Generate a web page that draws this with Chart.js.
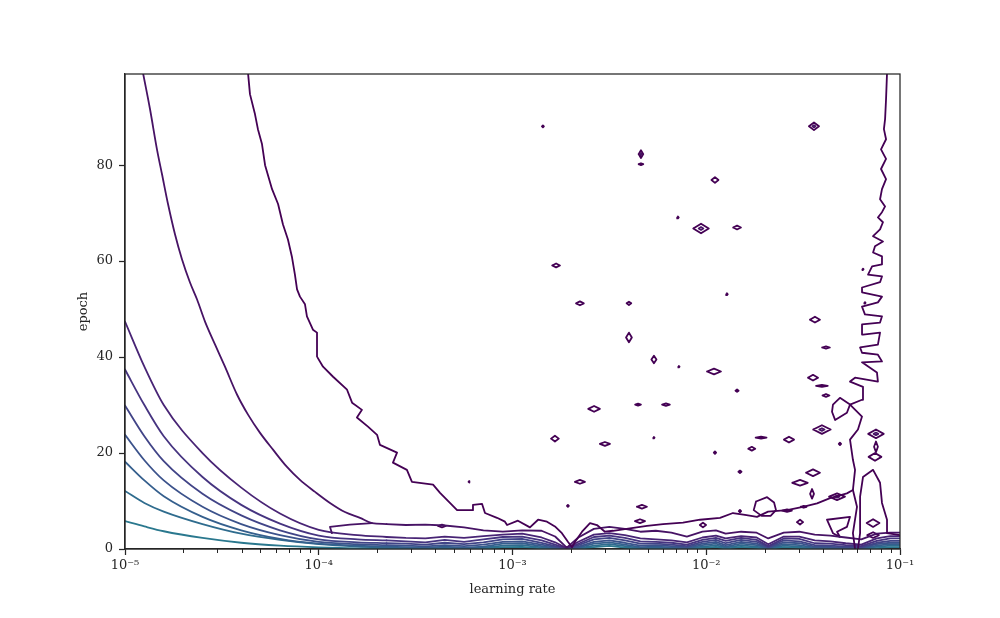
<!DOCTYPE html>
<html><head><meta charset="utf-8">
<script src="https://cdn.jsdelivr.net/npm/chart.js@4.4.1/dist/chart.umd.min.js"></script>
<style>html,body{margin:0;padding:0;background:#fff;}canvas{display:block;}</style>
</head><body>
<canvas id="c" width="1000" height="618"></canvas>
<script>
// ===== DATA (x = log10(learning rate), y = epoch) =====
const xTickExponents = [-5, -4, -3, -2, -1];
const xTickLabels = ['10⁻⁵', '10⁻⁴', '10⁻³', '10⁻²', '10⁻¹'];
const yTickValues = [0, 20, 40, 60, 80];
const minorDecades = [-5, -4, -3, -2];
const minorMultipliers = [2, 3, 4, 5, 6, 7, 8, 9];

// contour level colours (viridis, low part)
const levelColors = ['#440154', '#471365', '#482475', '#463480', '#414487', '#3b528b', '#355f8d', '#2f6c8e', '#2a788e'];

// level 0 : big outer contour (top-left -> bottom band -> right edge -> top)
const bLogLR = [-4.365,-4.355,-4.329,-4.314,-4.293,-4.277,-4.241,-4.210,-4.185,-4.159,-4.138,-4.123,-4.112,-4.097,-4.071,-4.061,-4.030,-4.009,-4.009,-3.978,-3.926,-3.854,-3.828,-3.777,-3.803,-3.746,-3.699,-3.684,-3.596,-3.617,-3.545,-3.519,-3.410,-3.374,-3.286,-3.209,-3.204,-3.157,-3.142,-3.080,-3.039,-3.028,-2.972,-2.910,-2.868,-2.822,-2.781,-2.745,-2.714,-2.693,-2.677,-2.641,-2.600,-2.564,-2.523,-2.481,-2.394,-2.306,-2.223,-2.120,-2.032,-1.929,-1.862,-1.800,-1.738,-1.681,-1.583,-1.501,-1.428,-1.361,-1.274,-1.243,-1.232,-1.243,-1.258,-1.217,-1.196,-1.258,-1.196,-1.191,-1.258,-1.232,-1.114,-1.119,-1.196,-1.093,-1.114,-1.196,-1.206,-1.114,-1.103,-1.191,-1.196,-1.103,-1.093,-1.181,-1.196,-1.114,-1.093,-1.196,-1.196,-1.103,-1.093,-1.165,-1.144,-1.093,-1.093,-1.139,-1.129,-1.088,-1.139,-1.103,-1.088,-1.114,-1.093,-1.077,-1.103,-1.093,-1.072,-1.098,-1.072,-1.098,-1.072,-1.083,-1.077,-1.072,-1.067];
const bEpoch = [99.2,94.8,90.6,87.5,84.4,80.0,75.0,71.9,67.7,64.5,60.8,57.2,54.1,52.6,51.0,48.5,45.7,45.1,40.1,38.0,35.9,33.2,30.5,29.0,27.4,25.5,23.8,21.7,20.1,18.0,16.5,14.0,13.4,11.7,8.1,8.1,9.2,9.4,7.5,6.5,5.7,5.0,5.9,4.5,6.1,5.7,4.7,3.3,1.5,0.35,1.5,3.6,5.4,5.0,3.6,3.8,4.3,4.8,5.2,5.5,6.1,6.5,7.5,7.1,6.7,7.8,8.1,8.8,9.5,10.6,11.6,12.3,16.5,18.6,22.8,24.9,27.6,30.1,31.1,33.8,34.9,35.7,34.9,36.8,38.9,39.1,40.5,40.9,42.0,42.6,45.1,44.7,46.8,47.2,48.5,48.9,50.5,51.4,52.6,53.5,54.5,55.6,56.8,57.2,58.9,59.3,61.0,61.8,63.1,64.1,65.2,66.6,68.1,69.1,70.2,71.4,72.9,75.0,77.1,79.2,81.3,83.3,85.4,87.5,89.6,93.8,99.2];
const bDropLogLR = [-1.243, -1.222, -1.243, -1.232];
const bDropEpoch = [12.3, 8.8, 3.3, 0];
const rightLogLR = [-1.217, -1.206, -1.206, -1.191, -1.139, -1.103, -1.093, -1.067, -1.067, -1.0];
const rightEpoch = [0, 3.3, 10.9, 15.0, 16.5, 13.8, 9.6, 6.1, 3.3, 2.9];

// level 1
const aLogLR = [-4.907,-4.871,-4.835,-4.809,-4.778,-4.742,-4.706,-4.665,-4.628,-4.587,-4.535,-4.484,-4.422,-4.365,-4.303,-4.236,-4.164,-4.097,-4.019,-3.942,-3.865,-3.787,-3.725,-3.650];
const aEpoch = [99.2,91.7,83.3,78.1,71.9,65.6,60.4,55.6,52.0,47.4,42.6,38.0,32.2,28.0,24.2,20.7,17.1,14.4,11.9,9.6,7.7,6.5,5.4,5.2];
const tongueLogLR = [-3.725, -3.839, -3.942, -3.932];
const tongueEpoch = [5.4, 5.1, 4.6, 3.3];

// levels 2..8 : smooth curves on the left
const leftLogLR = [-5, -4.9, -4.8, -4.6, -4.4, -4.2, -4.0, -3.8, -3.65];
const c3Left = [47.4, 38, 30, 20, 12.8, 7.4, 4.0, 2.9, 2.5];
const c4Left = [37.4, 30, 23.5, 15, 9.2, 5.3, 2.8, 2.0, 1.8];
const c5Left = [29.9, 23.5, 18.3, 11.5, 7.0, 3.9, 2.0, 1.4, 1.2];
const c6Left = [23.8, 18.5, 14.3, 8.8, 5.2, 2.9, 1.5, 1.0, 0.8];
const c7Left = [18.2, 14.3, 11.0, 6.7, 3.9, 2.1, 1.1, 0.7, 0.5];
const c8Left = [12.1, 9.6, 7.8, 5.2, 3.2, 1.9, 1.0, 0.5, 0.3];
const c9Left = [5.8, 4.7, 3.7, 2.3, 1.3, 0.7, 0.35, 0.15, 0.1];

// noisy band near epoch 0
const bandLogLR = [-3.55,-3.45,-3.35,-3.25,-3.15,-3.05,-2.95,-2.85,-2.78,-2.72,-2.66,-2.58,-2.5,-2.42,-2.34,-2.26,-2.18,-2.1,-2.02,-1.95,-1.9,-1.82,-1.74,-1.68,-1.6,-1.52,-1.44,-1.36,-1.28,-1.2,-1.12,-1.05,-1.0];
const aTail  = [5.0,5.1,4.9,4.5,3.9,3.6,3.9,3.8,2.6,0.3,2.4,4.2,4.6,4.2,3.6,3.8,3.4,2.6,3.6,3.9,3.2,3.6,3.4,2.2,3.4,3.6,3.0,2.8,2.4,2.0,3.2,3.4,3.4];
const c3Tail = [2.3,2.2,2.6,2.3,2.7,3.0,3.2,2.4,1.4,0.15,1.5,3.0,3.3,2.9,2.2,2.0,1.8,1.4,2.4,2.8,2.2,2.7,2.4,1.0,2.6,2.6,1.8,1.6,1.2,0.9,2.2,2.7,2.7];
const c4Tail = [1.6,1.4,1.9,1.5,2.0,2.5,2.6,1.8,0.9,0.08,1.1,2.5,2.8,2.3,1.6,1.5,1.3,0.9,1.9,2.3,1.7,2.3,1.9,0.6,2.2,2.1,1.2,1.1,0.8,0.6,1.7,2.2,2.2];
const c5Tail = [1.1,0.9,1.3,1.0,1.4,2.0,2.1,1.3,0.6,0.05,0.8,2.0,2.3,1.8,1.1,1.1,0.9,0.6,1.5,1.9,1.2,1.9,1.5,0.4,1.8,1.6,0.8,0.7,0.5,0.4,1.3,1.7,1.7];
const c6Tail = [0.7,0.55,0.8,0.6,0.9,1.5,1.6,0.9,0.4,0.03,0.5,1.5,1.8,1.3,0.7,0.8,0.6,0.4,1.1,1.5,0.8,1.5,1.1,0.25,1.4,1.2,0.5,0.45,0.3,0.25,1.0,1.3,1.3];
const c7Tail = [0.4,0.3,0.5,0.3,0.5,1.1,1.2,0.6,0.2,0.02,0.3,1.1,1.4,0.9,0.4,0.5,0.35,0.2,0.8,1.1,0.5,1.1,0.8,0.15,1.0,0.8,0.3,0.25,0.15,0.1,0.7,1.0,1.0];
const c8Tail = [0.2,0.15,0.25,0.15,0.3,0.7,0.8,0.35,0.1,0,0.15,0.7,1.0,0.6,0.2,0.3,0.2,0.1,0.5,0.75,0.3,0.75,0.5,0.05,0.7,0.5,0.15,0.1,0.05,0.05,0.45,0.7,0.7];
const c9Tail = [0.08,0.05,0.1,0.05,0.1,0.4,0.45,0.15,0.03,0,0.05,0.4,0.65,0.3,0.05,0.1,0.05,0,0.25,0.45,0.1,0.45,0.25,0,0.4,0.25,0.05,0,0,0,0.2,0.4,0.4];

// small closed contours: centre (log10 lr, epoch), half width (decades), half height (epochs), inner ring
const loopLogLR = [-2.843,-2.337,-2.337,-1.955,-2.146,-2.027,-1.841,-2.775,-1.893,-2.652,-2.399,-1.191,-1.444,-1.439,-2.399,-1.382,-2.270,-2.141,-1.960,-1.841,-1.449,-1.403,-1.382,-2.579,-2.352,-2.208,-1.403,-1.124,-2.781,-2.523,-2.270,-1.717,-1.573,-1.124,-1.955,-1.765,-1.310,-1.129,-1.826,-1.449,-1.516,-1.454,-2.652,-3.224,-2.714,-2.332,-1.583,-1.497,-1.826,-2.342,-3.364,-2.017,-1.516,-1.139,-1.325,-1.181,-1.139];
const loopEpoch = [88.1,82.3,80.2,76.9,69.1,66.8,67.0,59.1,53.1,51.2,51.2,58.3,88.1,47.8,44.1,42.0,39.5,38.0,37.0,33.0,35.7,34.0,32.0,29.2,30.1,30.1,24.9,24.0,23.0,21.9,23.2,23.2,22.8,21.3,20.1,20.9,21.9,19.2,16.1,15.9,13.8,11.5,14.0,14.0,9.0,8.8,8.0,8.8,7.9,5.8,4.8,5.0,5.6,5.4,10.9,51.3,2.9];
const loopHalfW = [0.005,0.012,0.012,0.018,0.004,0.04,0.02,0.02,0.004,0.02,0.012,0.003,0.026,0.026,0.015,0.02,0.013,0.003,0.036,0.008,0.026,0.03,0.018,0.03,0.015,0.02,0.045,0.04,0.02,0.026,0.003,0.028,0.026,0.01,0.006,0.018,0.006,0.033,0.008,0.036,0.04,0.01,0.026,0.003,0.005,0.026,0.025,0.015,0.006,0.026,0.02,0.016,0.016,0.033,0.041,0.003,0.03];
const loopHalfH = [0.2,0.8,0.2,0.6,0.2,1.0,0.4,0.4,0.2,0.4,0.35,0.15,0.8,0.6,1.0,0.25,0.8,0.15,0.6,0.25,0.6,0.2,0.3,0.6,0.2,0.25,0.9,0.9,0.6,0.4,0.15,0.2,0.6,1.1,0.25,0.4,0.25,0.8,0.25,0.7,0.6,1.0,0.4,0.15,0.2,0.4,0.25,0.2,0.25,0.4,0.3,0.5,0.5,0.8,0.7,0.15,0.6];
const loopInner = [0,1,0,0,0,1,0,0,0,0,0,0,1,0,0,0,0,0,0,0,0,0,0,0,0,0,1,1,0,0,0,0,0,0,0,0,0,0,0,0,0,0,0,0,0,0,0,0,0,0,0,0,0,0,1,0,0];

// irregular closed contours
const ringLogLR = [-1.743,-1.686,-1.650,-1.640,-1.668,-1.714,-1.755,-1.743];
const ringEpoch = [9.9,10.8,9.7,8.1,6.9,6.9,8.1,9.9];
const quadLogLR = [-1.346,-1.310,-1.258,-1.274,-1.335,-1.351,-1.346];
const quadEpoch = [30.1,31.5,30.1,28.4,26.9,28.6,30.1];
const forkLogLR = [-1.377,-1.258,-1.274,-1.325,-1.310,-1.346,-1.377];
const forkEpoch = [6.1,6.7,4.6,3.6,2.5,3.3,6.1];

// ===== BUILD =====
const P = v => Math.pow(10, v);
const pts = (lx, ep) => lx.map((v, i) => ({x: P(v), y: ep[i]}));
const join = (lx1, ep1, lx2, ep2) => pts([lx1[lx1.length-1]].concat(lx2), [ep1[ep1.length-1]].concat(ep2));
const ds = [];
function line(data, color, smooth, width) {
  ds.push({data, showLine: true, borderColor: color, backgroundColor: 'transparent',
    borderWidth: width || 1.8, pointRadius: 0, fill: false, tension: 0,
    cubicInterpolationMode: smooth ? 'monotone' : 'default',
    borderJoinStyle: 'round', borderCapStyle: 'round'});
}
line(pts(bLogLR, bEpoch), levelColors[0], false);
line(pts(bDropLogLR, bDropEpoch), levelColors[0], false);
line(pts(rightLogLR, rightEpoch), levelColors[0], false);
line(pts(aLogLR, aEpoch), levelColors[1], true);
line(join(aLogLR, aEpoch, bandLogLR, aTail), levelColors[1], false);
line(pts(tongueLogLR, tongueEpoch), levelColors[1], false);
const lefts = [c3Left, c4Left, c5Left, c6Left, c7Left, c8Left, c9Left];
const tails = [c3Tail, c4Tail, c5Tail, c6Tail, c7Tail, c8Tail, c9Tail];
lefts.forEach((arr, k) => {
  line(pts(leftLogLR, arr), levelColors[k + 2], true);
  line(join(leftLogLR, arr, bandLogLR, tails[k]), levelColors[k + 2], false);
});
loopLogLR.forEach((cx, i) => {
  const hw = loopHalfW[i], hh = loopHalfH[i], cy = loopEpoch[i];
  line(pts([cx - hw, cx, cx + hw, cx, cx - hw], [cy, cy + hh, cy, cy - hh, cy]), levelColors[0], false);
  if (loopInner[i]) {
    const iw = hw * 0.3, ih = hh * 0.3;
    line(pts([cx - iw, cx, cx + iw, cx, cx - iw], [cy, cy + ih, cy, cy - ih, cy]), levelColors[1], false);
  }
});
line(pts(ringLogLR, ringEpoch), levelColors[0], false);
line(pts(quadLogLR, quadEpoch), levelColors[0], false);
line(pts(forkLogLR, forkEpoch), levelColors[0], false);

const INK = '#262626';
const FONT = 'DejaVu Serif';
const framePlugin = {
  id: 'frame',
  afterDatasetsDraw(chart) {
    const {ctx, chartArea: a, scales: {x}} = chart;
    ctx.save();
    ctx.strokeStyle = INK;
    ctx.lineWidth = 1;
    ctx.beginPath();
    minorDecades.forEach(e => minorMultipliers.forEach(m => {
      const px = Math.round(x.getPixelForValue(m * Math.pow(10, e))) + 0.5;
      ctx.moveTo(px, a.bottom); ctx.lineTo(px, a.bottom + 4);
    }));
    ctx.stroke();
    ctx.lineWidth = 1.25;
    ctx.strokeRect(a.left, a.top, a.right - a.left, a.bottom - a.top);
    ctx.restore();
  }
};

new Chart(document.getElementById('c'), {
  type: 'scatter',
  data: {datasets: ds},
  options: {
    responsive: false, animation: false, devicePixelRatio: 1,
    layout: {padding: {top: 74, right: 100, left: 0, bottom: 0}},
    plugins: {legend: {display: false}, tooltip: {enabled: false}},
    scales: {
      x: {
        type: 'logarithmic', min: 1e-5, max: 1e-1,
        afterBuildTicks: s => { s.ticks = xTickExponents.map(e => ({value: Math.pow(10, e), major: true})); },
        afterFit: s => { s.height = 69; },
        grid: {display: true, drawOnChartArea: false, drawTicks: true, tickLength: 6, tickWidth: 1.25, tickColor: INK},
        border: {display: true, color: INK, width: 1.25},
        ticks: {color: INK, font: {family: FONT, size: 13}, padding: 3, autoSkip: false, maxRotation: 0,
          callback: (v, i) => xTickLabels[i]},
        title: {display: true, text: 'learning rate', color: INK, font: {family: FONT, size: 13}, padding: {bottom: 21}}
      },
      y: {
        type: 'linear', min: 0, max: 99,
        afterBuildTicks: s => { s.ticks = yTickValues.map(v => ({value: v})); },
        afterFit: s => { s.width = 125; },
        grid: {display: true, drawOnChartArea: false, drawTicks: true, tickLength: 6, tickWidth: 1.25, tickColor: INK},
        border: {display: true, color: INK, width: 1.25},
        ticks: {color: INK, font: {family: FONT, size: 13}, padding: 6},
        title: {display: true, text: 'epoch', color: INK, font: {family: FONT, size: 13}, padding: {top: 76}}
      }
    }
  },
  plugins: [framePlugin]
});
</script>
</body></html>
